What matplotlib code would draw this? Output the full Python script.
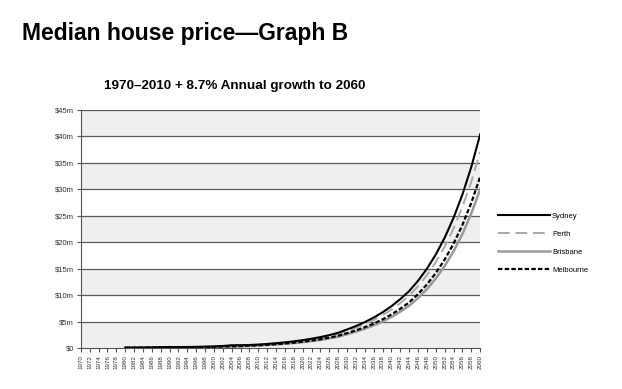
import matplotlib
matplotlib.use("Agg")
import matplotlib.pyplot as plt

plt.rcParams["font.family"] = ["Liberation Sans", "DejaVu Sans"]

years = list(range(1980, 2061, 2))

# median price, $m (1980-2008 history, then projection to 2060)
sydney = [0.065, 0.075, 0.08, 0.10, 0.16, 0.19, 0.18, 0.19, 0.22, 0.26, 0.29, 0.38, 0.52, 0.53, 0.57,
          0.65, 0.767, 0.904, 1.067, 1.258, 1.484, 1.751, 2.065, 2.436, 2.874, 3.50, 4.15, 4.90,
          5.75, 6.75, 7.90, 9.25, 10.77, 12.71, 14.99, 17.68, 20.86, 24.61, 29.03, 34.24, 40.39]
perth = [0.04, 0.048, 0.055, 0.065, 0.09, 0.10, 0.10, 0.12, 0.13, 0.15, 0.16, 0.19, 0.26, 0.40, 0.47,
         0.597, 0.705, 0.830, 0.980, 1.156, 1.363, 1.608, 1.897, 2.238, 2.640, 3.215, 3.812, 4.501,
         5.282, 6.201, 7.257, 8.497, 9.893, 11.675, 13.770, 16.241, 19.162, 22.607, 26.667, 31.453, 37.10]
brisbane = [0.04, 0.05, 0.058, 0.065, 0.075, 0.10, 0.11, 0.12, 0.13, 0.14, 0.15, 0.19, 0.29, 0.34, 0.41,
            0.483, 0.570, 0.672, 0.793, 0.935, 1.103, 1.301, 1.534, 1.810, 2.135, 2.601, 3.083, 3.641,
            4.272, 5.015, 5.870, 6.873, 8.002, 9.444, 11.138, 13.136, 15.499, 18.285, 21.569, 25.440, 30.01]
melbourne = [0.045, 0.055, 0.065, 0.08, 0.11, 0.13, 0.13, 0.14, 0.15, 0.19, 0.23, 0.28, 0.32, 0.36, 0.43,
             0.521, 0.615, 0.725, 0.856, 1.009, 1.190, 1.404, 1.656, 1.954, 2.305, 2.807, 3.328, 3.930,
             4.612, 5.414, 6.336, 7.419, 8.638, 10.193, 12.022, 14.179, 16.730, 19.737, 23.282, 27.460, 32.39]

x_ticks = list(range(1970, 2061, 2))
y_ticks = [0, 5, 10, 15, 20, 25, 30, 35, 40, 45]
y_labels = ["$0", "$5m", "$10m", "$15m", "$20m", "$25m", "$30m", "$35m", "$40m", "$45m"]

fig = plt.figure(figsize=(6.22, 3.89), dpi=100)
ax = fig.add_axes([0.130, 0.1054, 0.642, 0.6118])

# alternating grey / white bands
for i in range(0, len(y_ticks) - 1, 2):
    ax.axhspan(y_ticks[i], y_ticks[i + 1], color="#efefef", zorder=0, lw=0)
for y in y_ticks[1:]:
    ax.axhline(y, color="#5a5a5a", lw=0.9, zorder=1)

ax.plot(years, sydney, color="black", lw=1.5, label="Sydney", zorder=5)
ax.plot(years, perth, color="#a8a8a8", lw=1.4, dashes=(6, 3), label="Perth", zorder=4)
ax.plot(years, brisbane, color="#999999", lw=1.8, label="Brisbane", zorder=3)
ax.plot(years, melbourne, color="black", lw=1.6, dashes=(2, 1), label="Melbourne", zorder=4)

ax.set_xlim(1970, 2060)
ax.set_ylim(0, 45)
ax.set_xticks(x_ticks)
ax.set_xticklabels([str(x) for x in x_ticks], rotation=90, fontsize=4.5, color="#333333")
ax.set_yticks(y_ticks)
ax.set_yticklabels(y_labels, fontsize=5.5, color="#333333")
ax.tick_params(axis="x", length=3, width=0.8, color="#555555", pad=2)
ax.tick_params(axis="y", length=3, width=0.8, color="#555555", pad=2)
for s in ["top", "right"]:
    ax.spines[s].set_visible(False)
ax.spines["left"].set_color("#555555")
ax.spines["bottom"].set_color("#555555")

fig.text(0.036, 0.915, "Median house price\u2014Graph B", fontsize=16.5, fontweight="bold",
         ha="left", va="center")
fig.text(0.378, 0.778, "1970\u20132010 + 8.7% Annual growth to 2060", fontsize=9.7, fontweight="bold",
         ha="center", va="center")

fig.legend(loc="center left", bbox_to_anchor=(0.79, 0.375), frameon=False, fontsize=5.5,
           handlelength=6.8, labelspacing=1.4, handletextpad=0.25)

fig.savefig("out.png", dpi=100, facecolor="white")
